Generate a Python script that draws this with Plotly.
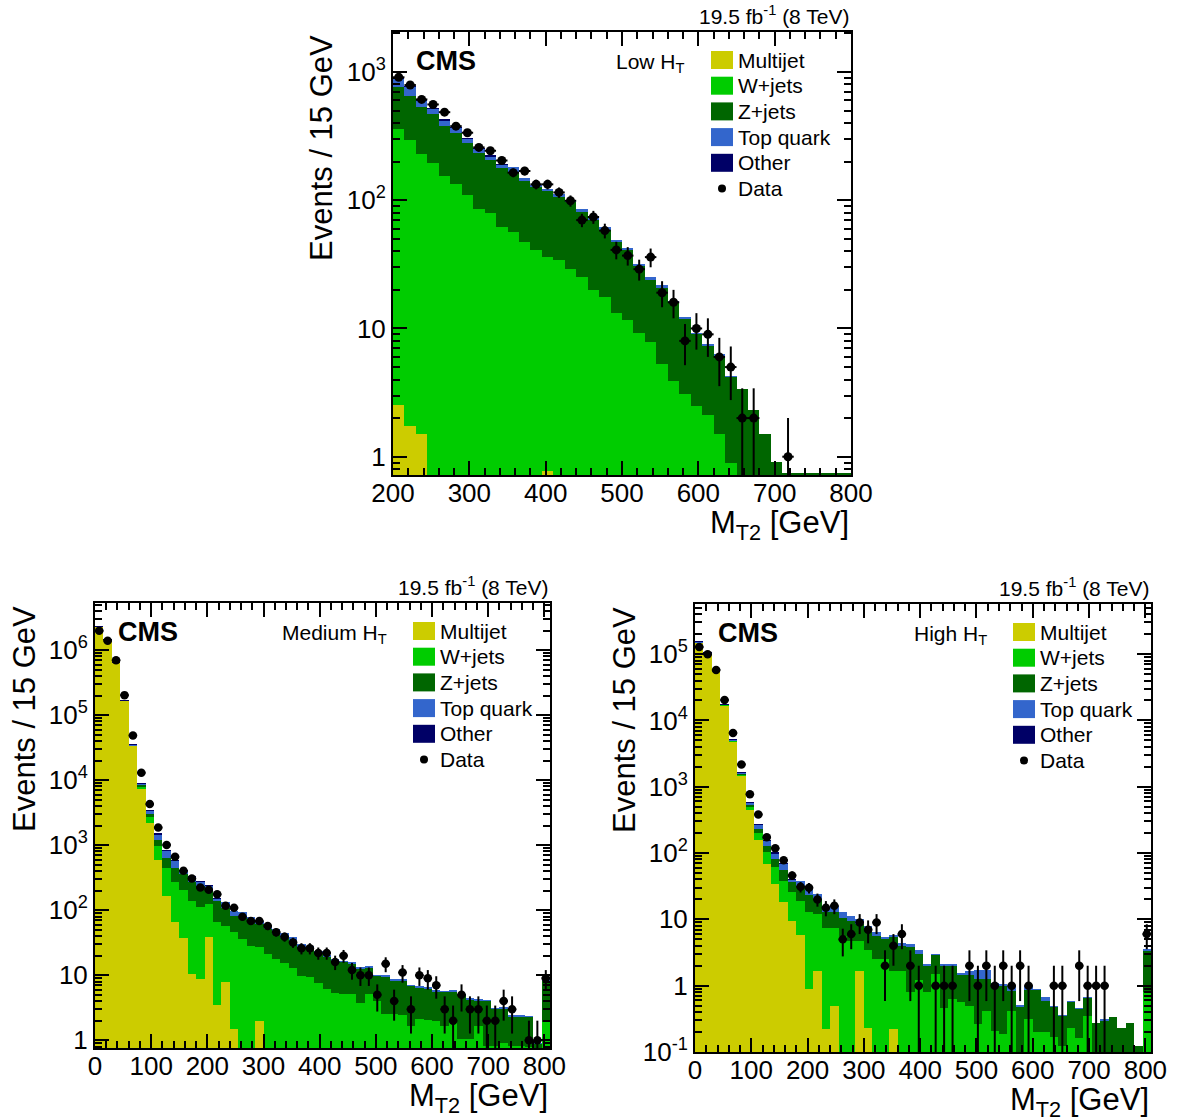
import numpy as np
import plotly.graph_objects as go

W, H = 1178, 1117
FONT = "Liberation Sans, Arial, Helvetica, sans-serif"

# ---------------- data ----------------
# Low HT: 40 bins of 15 GeV from 200 to 800
low_edges0 = 200
low_data = [909, 791, 611, 558, 486, 378, 336, 258, 243, 204, 164, 169, 133, 133, 115, 99, 70, 74, 58, 41,
            37, 29, 36, 19, 16, 8, 10, 9, 6, 5, 2, 2, 0, 0, 1, 0, 0, 0, 0, 0]
low_mj = [2.55, 1.73, 1.51, 0, 0, 0, 0, 0, 0, 0, 0, 0, 0, 0.78, 0, 0, 0, 0, 0, 0,
          0, 0, 0, 0, 0, 0, 0, 0, 0, 0, 0, 0, 0, 0, 0, 0, 0, 0, 0, 0]
low_w = [356.5, 292.3, 227.5, 196, 155, 133, 109, 86, 79, 62, 57, 47, 41, 35.2, 34, 29, 25, 20, 17.6, 13.2,
         11.6, 9.2, 7.8, 5.3, 3.9, 3.1, 2.5, 2.1, 1.5, 0.9, 0, 0, 0, 0, 0, 0, 0, 0, 0, 0]
low_z = [409, 359, 300, 271, 226, 199, 168, 148, 126, 115, 109, 94, 86, 81, 72, 68, 56, 51, 41.4, 33.8,
         29.4, 21.8, 16.2, 15.7, 11.9, 8.8, 6.6, 5.3, 4.7, 3.3, 3.4, 2.3, 1.5, 0.91, 0.75, 0.75, 0.75, 0.75, 0.75, 0.75]
low_top = [124, 114, 75, 53, 41, 35, 26, 19, 16, 13, 14, 7, 5, 6, 5, 3, 4, 2, 3, 2,
           1, 1, 1, 0.7, 0.4, 0.2, 0.1, 0.1, 0.1, 0.05, 0, 0, 0, 0, 0, 0, 0, 0, 0, 0]
low_other = [2.0, 1.6, 1.2, 1.0, 0.8, 0.6, 0.5, 0.4, 0.3, 0.3] + [0] * 30

# Medium HT: 54 bins of 15 GeV from 0 to 810
med_edges0 = 0
med_data = [1980000, 1390000, 700000, 203000, 48700, 13000, 4280, 1870, 1010, 662, 403, 307, 223, 206, 176,
            117, 109, 79, 68, 68, 57, 46, 39, 32, 26, 26, 22, 22, 16, 20, 12, 10, 10, 5, 15, 4, 11, 3, 10, 9,
            7, 3, 2, 5, 3, 3, 2, 2, 4, 3, 0, 1, 1, 9]
med_mj = [2280000, 1430000, 645000, 166000, 33700, 7500, 2230, 594, 166, 67, 38, 10.6, 8.7, 39, 3.45, 7.9,
          1.5, 0, 0, 2.0] + [0] * 34
med_w = [3000, 3000, 3000, 2000, 600, 500, 500, 382, 286, 208, 167, 128, 103, 85, 63.5, 49, 44.5, 36, 28, 25,
         21, 17.6, 15.6, 13.1, 9.75, 9.4, 7.7, 6.1, 5.4, 5.1, 5.1, 3.8, 5.2, 4.05, 2.5, 2.5, 2.47, 1.63, 2.1,
         2.08, 1.98, 1.66, 1.95, 1.06, 1.06, 1.66, 0.82, 0.82, 0.9, 0.82, 0.82, 0.8, 0.5, 1.88]
med_z = [1000, 1000, 1000, 800, 300, 470, 270, 234, 192, 177, 153, 133, 125, 74, 72, 53, 36, 41, 40.5, 34,
         30, 25.4, 22.4, 20.9, 17.25, 15.6, 14.6, 13.1, 11.6, 10.9, 10.0, 9.0, 7.9, 5.7, 6.9, 5.9, 5.93, 5.27,
         4.4, 4.22, 3.72, 3.94, 3.75, 3.94, 3.24, 2.49, 3.23, 2.23, 2.2, 1.53, 1.53, 1.5, 0.38, 6.52]
med_top = [2000, 2000, 2500, 1500, 500, 400, 370, 270, 173, 121, 54, 53, 35, 44, 12, 25, 15.5, 17, 11.5, 7.5,
           6, 8, 6, 5, 3, 3, 1.4, 1.1, 1.0, 0.3, 0.5, 0.3, 0.3, 0.25, 0.35, 0.3, 0.3, 0.1, 0.1, 0.2,
           0.2, 0.1, 0.1, 0.1, 0.1, 0.15, 0.05, 0.05, 0.05, 0.02, 0.02, 0.05, 0.02, 0.3]
med_other = [400, 300, 200, 100, 40, 20, 10, 6, 4, 3, 2, 1.5, 1, 1, 0.5] + [0] * 39

# High HT: 54 bins of 15 GeV from 0 to 810
high_edges0 = 0
high_data = [128000, 99600, 57700, 20300, 6450, 2170, 773, 382, 173, 118, 78, 46, 31, 30, 20, 15, 16, 5, 6, 9,
             7, 9, 2, 4, 6, 2, 1, 0, 1, 1, 1, 0, 2, 1, 2, 1, 2, 1, 2, 1, 0, 0, 1, 1, 0, 2, 1, 1, 1, 0,
             0, 0, 0, 6]
high_mj = [151000, 102000, 54500, 16900, 4750, 1480, 448, 157, 68, 34, 18, 9.5, 5.9, 0.885, 1.68, 0.22, 0.5,
           0, 0, 1.68, 0.23, 0, 0, 0.22] + [0] * 30
high_w = [800, 800, 500, 300, 150, 70, 56, 41, 37, 27, 20.5, 16.5, 12.8, 11.9, 10.3, 7.1, 6.8, 5.7, 4.8, 3.1,
          3.2, 2.5, 2.5, 1.46, 1.68, 0.79, 1.2, 0.79, 1.5, 0.46, 0.625, 0.56, 0.5, 0.26, 0.42, 0.21, 0.19,
          0.42, 0.1, 0.32, 0.2, 0.2, 0.17, 0.124, 0.23, 0.16, 0.35, 0.1, 0.1, 0, 0, 0, 0, 0.79]
high_z = [400, 400, 300, 150, 90, 50, 29, 32, 21, 20.5, 17.5, 11, 13.3, 10.5, 8.3, 5.5, 5.5, 4.7, 4.7, 3.7,
          3.4, 3.2, 2.7, 3.8, 2.3, 3.1, 1.8, 1.2, 1.45, 1.54, 1.375, 0.94, 0.95, 0.99, 0.83, 0.85, 0.81, 0.42,
          0.39, 0.55, 0.67, 0.39, 0.31, 0.226, 0.34, 0.29, 0.31, 0.17, 0.2, 0.34, 0.23, 0.27, 0.124, 2.61]
high_top = [800, 800, 400, 150, 110, 60, 52, 35, 26, 18.5, 12.5, 3, 6.5, 5.5, 3.7, 2.4, 2.9, 2.4, 1.9, 1.6,
            1.2, 0.7, 0.3, 0.3, 0.5, 0.35, 0.4, 0.1, 0.05, 0.1, 0.1, 0.05, 0.23, 0.47, 0.47, 0.02, 0.06, 0.16,
            0.01, 0.13, 0.015, 0.09, 0.01, 0.01, 0.01, 0.01, 0.01, 0, 0.01, 0, 0, 0, 0, 0.08]
high_other = [150, 100, 60, 30, 12, 5, 3, 2, 1, 0.8, 0.5, 0.3] + [0] * 42

BIN = 15
proc_names = ["Multijet", "W+jets", "Z+jets", "Top quark", "Other"]
proc_colors = ["#CCCC00", "#00CC00", "#006600", "#3366CC", "#000066"]

panels = [
    dict(key="", label="Low H<sub>T</sub>", e0=low_edges0, data=low_data,
         procs=[low_mj, low_w, low_z, low_top, low_other],
         xr=[200, 800], yr=[0.72, 2050], box=(393, 32, 851, 475),
         ytv=[1, 10, 100, 1000], ytt=["1", "10", "10<sup>2</sup>", "10<sup>3</sup>"], msize=9),
    dict(key="2", label="Medium H<sub>T</sub>", e0=med_edges0, data=med_data,
         procs=[med_mj, med_w, med_z, med_top, med_other],
         xr=[0, 810], yr=[0.76, 5.3e6], box=(95, 603, 550, 1048),
         ytv=[1, 10, 1e2, 1e3, 1e4, 1e5, 1e6],
         ytt=["1", "10", "10<sup>2</sup>", "10<sup>3</sup>", "10<sup>4</sup>", "10<sup>5</sup>", "10<sup>6</sup>"],
         msize=8.5),
    dict(key="3", label="High H<sub>T</sub>", e0=high_edges0, data=high_data,
         procs=[high_mj, high_w, high_z, high_top, high_other],
         xr=[0, 810], yr=[0.1, 5.7e5], box=(695, 604, 1151, 1052),
         ytv=[0.1, 1, 10, 1e2, 1e3, 1e4, 1e5],
         ytt=["10<sup>-1</sup>", "1", "10", "10<sup>2</sup>", "10<sup>3</sup>", "10<sup>4</sup>", "10<sup>5</sup>"],
         msize=8.5),
]

fig = go.Figure()
layout = {}
shapes = []
annotations = []

def fx(px):
    return px / W

def fy(py):
    return 1 - py / H

for p in panels:
    k = p["key"]
    xa, ya = "x" + k, "y" + k
    n = len(p["data"])
    centers = p["e0"] + BIN * (np.arange(n) + 0.5)
    for vals, name, col in zip(p["procs"], proc_names, proc_colors):
        fig.add_trace(go.Bar(x=centers, y=vals, width=BIN, name=name,
                             marker=dict(color=col, line=dict(width=0)),
                             xaxis=xa, yaxis=ya, showlegend=False, hoverinfo="skip"))
    d = np.array(p["data"], dtype=float)
    m = d > 0
    err = np.sqrt(d[m])
    errm = np.minimum(err, d[m] * 0.999)
    fig.add_trace(go.Scatter(x=centers[m], y=d[m], mode="markers", name="Data",
                             marker=dict(color="black", size=p["msize"]),
                             error_y=dict(type="data", array=err, arrayminus=errm, color="black",
                                          thickness=2, width=0),
                             error_x=dict(type="constant", value=BIN / 2, color="black",
                                          thickness=2, width=0),
                             xaxis=xa, yaxis=ya, showlegend=False, hoverinfo="skip"))

    x0, y0, x1, y1 = p["box"]
    lo, hi = np.log10(p["yr"][0]), np.log10(p["yr"][1])
    minor_vals = [d_ * 10.0 ** e for e in range(int(np.floor(lo)) - 1, int(np.ceil(hi)) + 1)
                  for d_ in range(2, 10)]
    layout["xaxis" + k] = dict(
        domain=[fx(x0), fx(x1)], anchor=ya, range=p["xr"], automargin=False,
        showline=True, linecolor="black", linewidth=2, mirror="allticks",
        ticks="inside", ticklen=14, tickwidth=1.5, tickcolor="black",
        tick0=0, dtick=100, showgrid=False, zeroline=False, ticklabelstandoff=-6,
        tickfont=dict(size=26, family=FONT, color="black"),
        minor=dict(ticks="inside", ticklen=7, tickwidth=1.5, tickcolor="black",
                   dtick=20, tick0=0, showgrid=False),
    )
    layout["yaxis" + k] = dict(
        domain=[fy(y1), fy(y0)], anchor=xa, type="log", range=[lo, hi], automargin=False,
        showline=True, linecolor="black", linewidth=2, mirror="allticks",
        ticks="inside", ticklen=14, tickwidth=1.5, tickcolor="black",
        tickmode="array", tickvals=p["ytv"], ticktext=p["ytt"],
        showgrid=False, zeroline=False,
        tickfont=dict(size=26, family=FONT, color="black"),
        minor=dict(ticks="inside", ticklen=7, tickwidth=1.5, tickcolor="black",
                   tickmode="array", tickvals=minor_vals, showgrid=False),
    )

    # CMS label, region label, lumi
    cy = y0 + 29
    annotations.append(dict(text="<b>CMS</b>", x=fx(x0 + 21), y=fy(cy), xref="paper", yref="paper",
                            xanchor="left", yanchor="middle", showarrow=False,
                            font=dict(size=27, family=FONT, color="black")))
    annotations.append(dict(text=p["label"], x=fx(x0 + 294), y=fy(cy + 2), xref="paper", yref="paper",
                            xanchor="right", yanchor="middle", showarrow=False,
                            font=dict(size=21, family=FONT, color="black")))
    annotations.append(dict(text="19.5 fb<sup>-1</sup> (8 TeV)", x=fx(x1), y=fy(y0 - 17),
                            xref="paper", yref="paper", xanchor="right", yanchor="middle",
                            showarrow=False, font=dict(size=21, family=FONT, color="black")))
    # axis titles
    annotations.append(dict(text="M<sub>T2</sub> [GeV]", x=fx(x1), y=fy(y1 + 50),
                            xref="paper", yref="paper", xanchor="right", yanchor="middle",
                            showarrow=False, font=dict(size=31, family=FONT, color="black")))
    annotations.append(dict(text="Events / 15 GeV", x=fx(x0 - 71), y=fy(y0 + 116),
                            xref="paper", yref="paper", xanchor="center", yanchor="middle",
                            textangle=-90, showarrow=False,
                            font=dict(size=31, family=FONT, color="black")))
    # legend
    lx0 = x0 + 318
    for i, (name, col) in enumerate(zip(proc_names, proc_colors)):
        yc = y0 + 28 + 25.7 * i
        shapes.append(dict(type="rect", xref="paper", yref="paper",
                           x0=fx(lx0), x1=fx(lx0 + 22), y0=fy(yc + 9), y1=fy(yc - 9),
                           fillcolor=col, line=dict(width=0)))
        annotations.append(dict(text=name, x=fx(lx0 + 25), y=fy(yc), xref="paper", yref="paper",
                                xanchor="left", yanchor="middle", showarrow=False,
                                font=dict(size=21, family=FONT, color="black")))
    yc = y0 + 28 + 25.7 * 5
    shapes.append(dict(type="circle", xref="paper", yref="paper",
                       x0=fx(lx0 + 7), x1=fx(lx0 + 15), y0=fy(yc + 4), y1=fy(yc - 4),
                       fillcolor="black", line=dict(width=0)))
    annotations.append(dict(text="Data", x=fx(lx0 + 25), y=fy(yc), xref="paper", yref="paper",
                            xanchor="left", yanchor="middle", showarrow=False,
                            font=dict(size=21, family=FONT, color="black")))

fig.update_layout(**layout)
fig.update_layout(width=W, height=H, margin=dict(l=0, r=0, t=0, b=0, pad=0, autoexpand=False),
                  autosize=False,
                  paper_bgcolor="white", plot_bgcolor="white",
                  barmode="stack", bargap=0, showlegend=False,
                  font=dict(family=FONT, color="black"),
                  shapes=shapes, annotations=annotations)

fig.write_html("out.html")
